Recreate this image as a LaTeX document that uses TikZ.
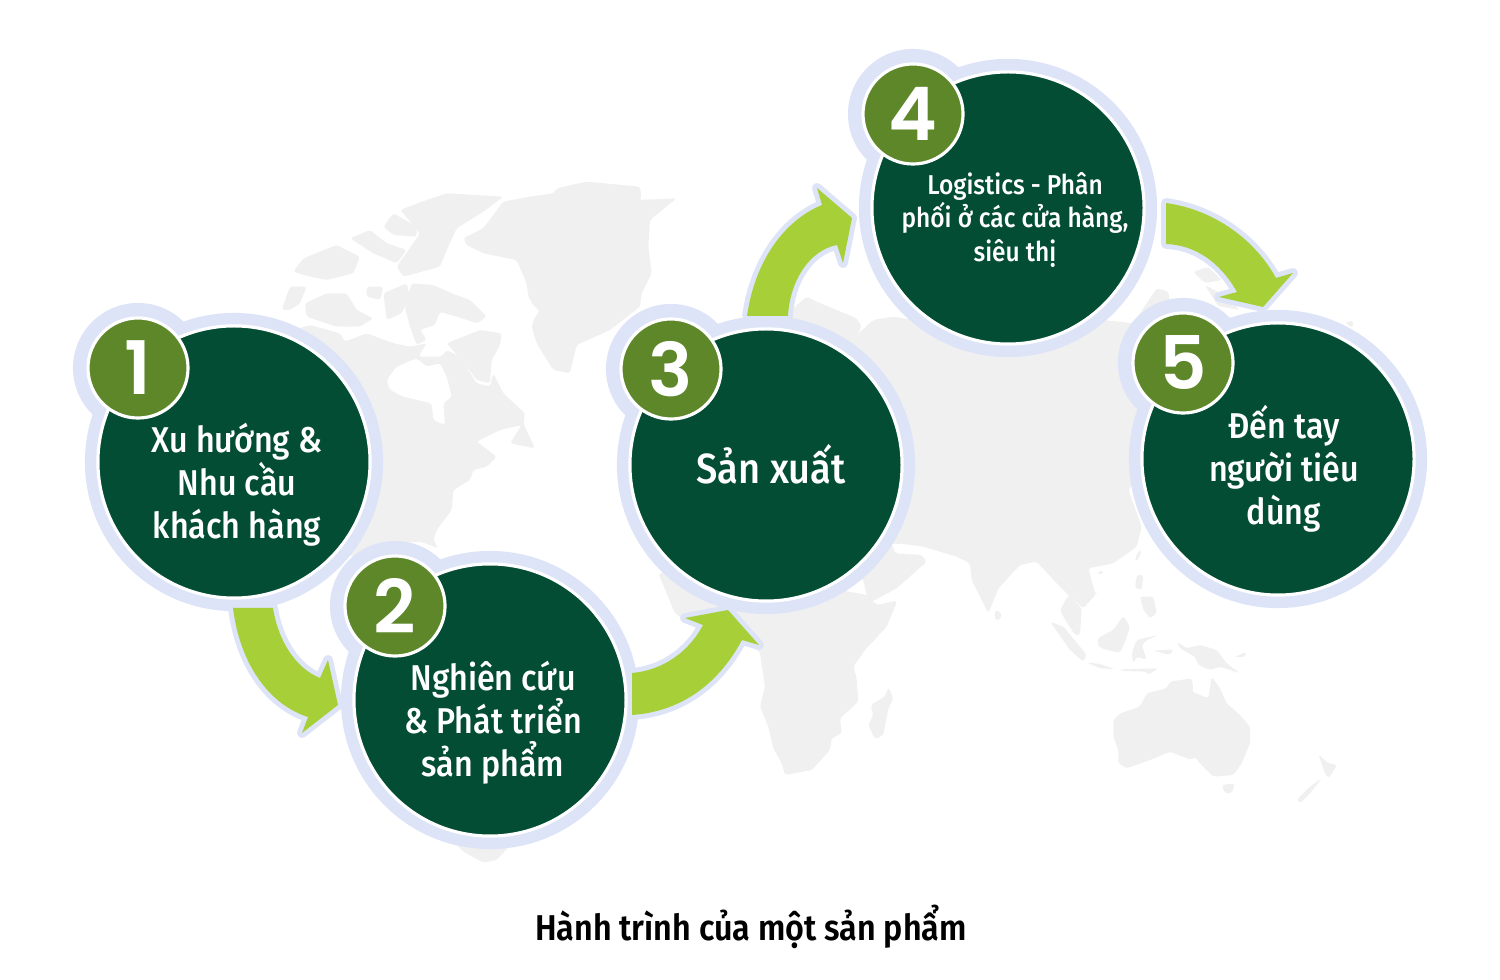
\documentclass[tikz,border=0pt]{standalone}
\usepackage{fontspec}
\setmainfont{Fira Sans}
\newfontfamily\lblfont{Fira Sans Medium}[FakeStretch=0.9]
\newfontfamily\capfont{Fira Sans SemiBold}[FakeStretch=0.9]
\newfontfamily\numfont{Poppins SemiBold}
\newcommand{\tightlines}{\setlength{\lineskiplimit}{-30pt}}
\definecolor{darkgreen}{HTML}{034D35}
\definecolor{lime}{HTML}{A6CF38}
\definecolor{olive}{HTML}{5D8729}
\definecolor{halo}{HTML}{DDE4F8}
\definecolor{land}{HTML}{F0F0F0}
\tikzset{
  halodisc/.style={circle,fill=halo,inner sep=0pt,minimum size=2.98cm},
  halobadge/.style={circle,fill=halo,inner sep=0pt,minimum size=1.30cm},
  maindisc/.style={circle,fill=darkgreen,draw=white,line width=0.9pt,inner sep=0pt,minimum size=2.72cm},
  badge/.style={circle,fill=olive,draw=white,line width=0.9pt,inner sep=0pt,minimum size=1.00cm,text=white,font=\numfont\fontsize{21}{21}\selectfont},
  steptext/.style={text=white,align=center,inner sep=0pt,font=\lblfont\fontsize{10.2}{12.2}\selectfont\tightlines},
  bigtext/.style={text=white,align=center,inner sep=0pt,font=\lblfont\fontsize{12}{14}\selectfont},
  smalltext/.style={text=white,align=center,inner sep=0pt,font=\lblfont\fontsize{7.75}{9.4}\selectfont\tightlines},
  captext/.style={text=black,inner sep=0pt,font=\capfont\fontsize{10.2}{12}\selectfont},
  arrowhalo/.style={draw=halo,fill=halo,line width=2.8pt,line join=round},
  arrowfill/.style={fill=lime},
  landmass/.style={fill=land,rounded corners=0.8pt}
}
\newcommand{\arrowOne}{(233,608) .. controls (240,665) and (270,705) .. (308,717) -- (302,733) -- (338,705) -- (328,660) -- (320,678) .. controls (295,668) and (278,640) .. (273,608) -- cycle}
\newcommand{\arrowTwo}{(632,673) .. controls (665,670) and (690,650) .. (703,625) -- (685,618) -- (728,610) -- (759,645) -- (742,640) .. controls (715,690) and (675,712) .. (632,715) -- cycle}
\newcommand{\arrowThree}{(747,316) .. controls (755,260) and (785,220) .. (822,205) -- (817,188) -- (852,218) -- (843,263) -- (837,245) .. controls (810,250) and (790,280) .. (788,316) -- cycle}
\newcommand{\arrowFour}{(1166,203) .. controls (1215,210) and (1255,240) .. (1276,278) -- (1293,273) -- (1263,307) -- (1219,297) -- (1237,292) .. controls (1220,262) and (1195,245) .. (1166,244) -- cycle}
\begin{document}
\begin{tikzpicture}[x=0.01cm,y=-0.01cm]
\useasboundingbox (0,0) rectangle (1500,980);
\fill[white] (0,0) rectangle (1500,980);
% ---- world map
\begin{scope}[x=0.01cm/3,y=-0.01cm/3,shift={(810,510)}]
\fill[landmass] (580,205) -- (640,175) -- (700,95) -- (780,80) -- (850,70) -- (860,55) -- (950,35) -- (1110,50) -- (1115,85) -- (1105,90) -- (1220,85) -- (1140,150) -- (1135,230) -- (1145,310) -- (1115,370) -- (1110,410) -- (1020,480) -- (920,525) -- (900,610) -- (850,600) -- (800,520) -- (785,470) -- (795,440) -- (810,425) -- (790,405) -- (775,380) -- (770,340) -- (740,270) -- (640,250) -- (590,225) -- cycle;
\fill[landmass] (120,465) -- (210,490) -- (225,515) -- (290,490) -- (370,520) -- (420,530) -- (470,520) -- (445,560) -- (515,560) -- (530,540) -- (570,560) -- (620,640) -- (660,650) -- (670,610) -- (700,670) -- (765,730) -- (760,760) -- (795,835) -- (720,820) -- (755,765) -- (690,780) -- (620,815) -- (680,860) -- (650,890) -- (610,900) -- (600,930) -- (550,960) -- (545,1020) -- (500,1080) -- (490,1110) -- (505,1135) -- (480,1125) -- (450,1115) -- (380,1120) -- (300,1180) -- (100,1100) -- (0,900) -- (0,500) -- cycle;
\fill[white,rounded corners=0.8pt] (350,630) -- (380,590) -- (440,565) -- (470,590) -- (510,580) -- (530,620) -- (545,680) -- (520,700) -- (525,765) -- (490,750) -- (485,700) -- (400,680) -- (360,660) -- cycle;
\fill[landmass] (530,520) -- (630,480) -- (695,490) -- (690,525) -- (665,570) -- (660,640) -- (620,630) -- (575,570) -- cycle;
\fill[landmass] (405,415) -- (425,340) -- (490,345) -- (545,370) -- (600,390) -- (650,440) -- (622,460) -- (560,440) -- (510,425) -- (495,465) -- (450,480) -- (470,510) -- (440,525) -- (420,470) -- cycle;
\fill[landmass] (35,420) -- (60,350) -- (110,350) -- (90,400) -- (60,420) -- cycle;
\fill[landmass] (105,400) -- (170,370) -- (230,370) -- (260,420) -- (310,445) -- (270,470) -- (200,470) -- (110,440) -- cycle;
\fill[landmass] (390,120) -- (470,90) -- (530,70) -- (700,80) -- (640,125) -- (560,175) -- (530,240) -- (510,290) -- (400,320) -- (380,290) -- (430,220) -- (450,190) -- (400,130) -- cycle;
\fill[landmass] (340,170) -- (370,130) -- (440,170) -- (440,200) -- (370,195) -- cycle;
\fill[landmass] (240,205) -- (300,180) -- (350,220) -- (410,240) -- (380,280) -- (310,250) -- cycle;
\fill[landmass] (100,265) -- (200,225) -- (270,260) -- (250,310) -- (170,330) -- (120,320) -- (70,305) -- cycle;
\fill[landmass] (340,370) -- (410,340) -- (420,380) -- (395,430) -- (350,450) -- cycle;
\fill[landmass] (290,350) -- (340,350) -- (330,390) -- (290,380) -- cycle;
\end{scope}
% south america tip and west Africa
\begin{scope}[x=0.01cm/3,y=-0.01cm/3,shift={(1200,1680)}]
\fill[landmass] (100,780) -- (400,780) -- (290,900) -- (250,908) -- (190,875) -- cycle;
\fill[landmass] (775,40) -- (825,160) -- (860,185) -- (1040,250) -- (1085,280) -- (1100,300) -- (1000,20) -- cycle;
\end{scope}
% Eurasia
\begin{scope}[x=0.01cm/3,y=-0.01cm/3,shift={(2340,780)}]
\fill[landmass] (45,140) -- (80,110) -- (110,125) -- (230,175) -- (245,200) -- (230,225) -- (280,180) -- (340,170) -- (400,180) -- (700,150) -- (1060,190) -- (1130,85) -- (1165,95) -- (1170,130) -- (1190,170) -- (1200,500) -- (1045,690) -- (1085,800) -- (1070,860) -- (1000,910) -- (925,925) -- (945,1000) -- (950,1000) -- (910,1045) -- (865,1005) -- (835,975) -- (770,905) -- (720,915) -- (655,985) -- (625,1060) -- (575,960) -- (570,910) -- (530,890) -- (430,860) -- (355,850) -- (345,880) -- (425,885) -- (440,905) -- (350,985) -- (265,1030) -- (250,960) -- (200,900) -- (0,500) -- (0,200) -- cycle;
\fill[landmass] (840,1050) -- (865,1005) -- (905,1045) -- (900,1125) -- (885,1125) -- (850,1070) -- cycle;
\fill[landmass] (645,1050) -- (665,1060) -- (660,1080) -- (645,1080) -- cycle;
\fill[landmass] (950,940) -- (970,930) -- (965,945) -- cycle;
\fill[landmass] (1078,870) -- (1085,875) -- (1070,905) -- (1065,895) -- cycle;
\fill[white] (335,850) -- (370,855) -- (345,878) -- cycle;
\end{scope}
% far-east pieces near arrow four and disc five
\fill[landmass] (1193,272) -- (1208,267) -- (1222,280) -- (1205,283) -- cycle;
\fill[landmass] (1205,285) -- (1225,296) -- (1240,310) -- (1218,306) -- cycle;
\fill[landmass] (1345,322) -- (1354,321) -- (1352,328) -- cycle;
% Africa
\begin{scope}[x=0.01cm/3,y=-0.01cm/3,shift={(2220,1770)}]
\fill[landmass] (0,60) -- (60,190) -- (75,290) -- (60,350) -- (85,410) -- (100,475) -- (125,520) -- (135,555) -- (215,540) -- (270,480) -- (275,445) -- (305,430) -- (300,385) -- (355,335) -- (350,265) -- (340,230) -- (375,180) -- (440,110) -- (472,32) -- (410,45) -- (380,15) -- (300,0) -- (0,0) -- cycle;
\fill[landmass] (445,292) -- (460,325) -- (445,355) -- (430,435) -- (405,448) -- (385,405) -- (400,375) -- (392,345) -- (435,320) -- cycle;
\end{scope}
% Oceania and south-east Asia
\begin{scope}[x=0.01cm/3,y=-0.01cm/3,shift={(3000,1680)}]
\fill[landmass] (340,480) -- (360,460) -- (420,440) -- (440,400) -- (500,385) -- (510,365) -- (575,355) -- (580,385) -- (575,395) -- (625,415) -- (635,350) -- (660,385) -- (680,430) -- (720,465) -- (750,500) -- (750,550) -- (725,610) -- (700,645) -- (640,650) -- (600,610) -- (585,590) -- (575,600) -- (510,575) -- (450,600) -- (380,625) -- (355,610) -- (355,570) -- (340,530) -- cycle;
\fill[landmass] (665,675) -- (705,670) -- (695,700) -- (675,700) -- cycle;
\fill[landmass] (955,583) -- (985,610) -- (1012,615) -- (985,655) -- (975,640) -- cycle;
\fill[landmass] (965,655) -- (930,700) -- (900,730) -- (890,720) -- (930,680) -- cycle;
\fill[landmass] (530,245) -- (560,265) -- (600,255) -- (650,270) -- (680,310) -- (720,340) -- (660,320) -- (630,330) -- (595,315) -- (585,290) -- (540,265) -- cycle;
\fill[landmass] (150,185) -- (190,200) -- (240,260) -- (260,285) -- (250,305) -- (210,270) -- (175,220) -- cycle;
\fill[landmass] (260,307) -- (300,312) -- (345,328) -- (300,325) -- cycle;
\fill[landmass] (365,328) -- (475,325) -- (445,345) -- (440,335) -- (365,333) -- cycle;
\fill[landmass] (292,235) -- (340,210) -- (370,168) -- (390,200) -- (375,245) -- (360,278) -- (320,270) -- (295,260) -- cycle;
\fill[landmass] (410,240) -- (475,225) -- (440,240) -- (425,255) -- (440,300) -- (410,290) -- (400,310) -- (395,280) -- cycle;
\fill[landmass] (410,45) -- (430,45) -- (425,90) -- (405,85) -- cycle;
\fill[landmass] (420,110) -- (460,110) -- (470,160) -- (450,175) -- (430,150) -- cycle;
\fill[landmass] (460,272) -- (520,268) -- (510,285) -- cycle;
\fill[landmass] (702,292) -- (740,275) -- (735,290) -- cycle;
\end{scope}
% ---- halos
\foreach \cx/\cy in {234/462,490/700,766/465,1008/208,1278/459}{\node[halodisc] at (\cx,\cy) {};}
\foreach \cx/\cy in {138/368,395/606,671/369,913/114,1183/363}{\node[halobadge] at (\cx,\cy) {};}
\draw[arrowhalo] \arrowOne;
\draw[arrowhalo] \arrowTwo;
\draw[arrowhalo] \arrowThree;
\draw[arrowhalo] \arrowFour;
\fill[arrowfill] \arrowOne;
\fill[arrowfill] \arrowTwo;
\fill[arrowfill] \arrowThree;
\fill[arrowfill] \arrowFour;
% ---- discs
\node[maindisc] (c1) at (234,462) {};
\node[maindisc] (c2) at (490,700) {};
\node[maindisc] (c3) at (766,465) {};
\node[maindisc] (c4) at (1008,208) {};
\node[maindisc] (c5) at (1278,459) {};
\node[badge] (b1) at (138,368) {1};
\node[badge] (b2) at (395,606) {2};
\node[badge] (b3) at (671,369) {3};
\node[badge] (b4) at (913,114) {4};
\node[badge] (b5) at (1183,363) {5};
\node[steptext] (t1) at (237,485) {Xu hướng \&\\Nhu cầu\\khách hàng};
\node[steptext] (t2) at (493,723) {Nghiên cứu\\\& Phát triển\\sản phẩm};
\node[bigtext] (t3) at (771,464) {Sản xuất};
\node[smalltext] (t4) at (1015,220) {Logistics - Phân\\phối ở các cửa hàng,\\siêu thị};
\node[steptext] (t5) at (1284,469) {Đến tay\\người tiêu\\dùng};
\node[captext] (cap) at (751,927) {Hành trình của một sản phẩm};
\end{tikzpicture}
\end{document}
